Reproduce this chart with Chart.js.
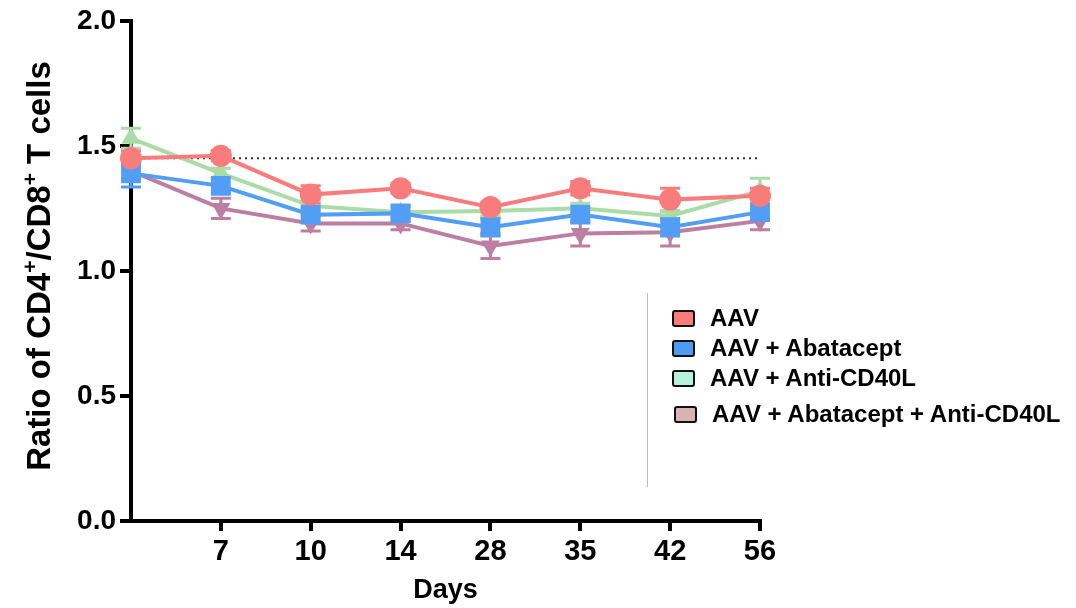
<!DOCTYPE html>
<html>
<head>
<meta charset="utf-8">
<script src="https://cdn.jsdelivr.net/npm/chart.js@4"></script>
<style>
  body { margin: 0; background: #fff; }
  #wrap { position: relative; width: 1076px; height: 608px; }
  #legend { position: absolute; left: 0; top: 0; }
  .sep { position: absolute; left: 647px; top: 293px; width: 1px; height: 194px; background: #bbb; }
  .item { position: absolute; font: bold 24px "Liberation Sans Narrow", "Arial Narrow", Arial, sans-serif; color: #000; white-space: nowrap; line-height: 24px; }
  .box { position: absolute; width: 19px; height: 13px; border: 2px solid #111; border-radius: 3px; }
</style>
</head>
<body>
<div id="wrap">
  <canvas id="chart" width="1076" height="608"></canvas>
  <div id="legend"></div>
</div>
<script>
// categories (first point sits on the y axis, no label)
const days = ['', '7', '10', '14', '28', '35', '42', '56'];

const seriesNames = ['AAV', 'AAV + Abatacept', 'AAV + Anti-CD40L', 'AAV + Abatacept + Anti-CD40L'];

const aavMean = [1.45, 1.46, 1.305, 1.33, 1.255, 1.33, 1.285, 1.30];
const aavSem = [0.03, 0.02, 0.035, 0.02, 0.02, 0.027, 0.045, 0.03];

const abataMean = [1.39, 1.34, 1.225, 1.23, 1.175, 1.225, 1.175, 1.235];
const abataSem = [0.055, 0.03, 0.03, 0.03, 0.035, 0.03, 0.035, 0.03];

const antiMean = [1.53, 1.39, 1.26, 1.235, 1.24, 1.25, 1.22, 1.32];
const antiSem = [0.04, 0.02, 0.02, 0.02, 0.02, 0.02, 0.02, 0.05];

const comboMean = [1.40, 1.25, 1.19, 1.19, 1.10, 1.15, 1.155, 1.20];
const comboSem = [0.03, 0.04, 0.03, 0.025, 0.05, 0.05, 0.055, 0.035];

const refLevel = [1.45, 1.45, 1.45, 1.45, 1.45, 1.45, 1.45, 1.45];

const yTicks = [0, 0.5, 1.0, 1.5, 2.0];

const lineColors = ['#F97C7C', '#529EF4', '#A9DCA6', '#BC7EA2'];
const legendColors = ['#F97B7B', '#4E9CF2', '#B9F2DC', '#D9B3B3'];

// error bars, drawn under the lines/markers
const errorBars = {
  id: 'errorBars',
  beforeDatasetsDraw(chart) {
    const ctx = chart.ctx;
    const y = chart.scales.y;
    chart.data.datasets.forEach((ds, i) => {
      if (!ds.sem) return;
      const meta = chart.getDatasetMeta(i);
      ctx.save();
      ctx.strokeStyle = ds.borderColor;
      ctx.lineWidth = 3;
      meta.data.forEach((pt, j) => {
        const top = y.getPixelForValue(ds.data[j] + ds.sem[j]);
        const bot = y.getPixelForValue(ds.data[j] - ds.sem[j]);
        ctx.beginPath();
        ctx.moveTo(pt.x, top); ctx.lineTo(pt.x, bot);
        ctx.moveTo(pt.x - 10, top); ctx.lineTo(pt.x + 10, top);
        ctx.moveTo(pt.x - 10, bot); ctx.lineTo(pt.x + 10, bot);
        ctx.stroke();
      });
      ctx.restore();
    });
  }
};

// rotated y title with superscripts
const yTitle = {
  id: 'yTitle',
  afterDraw(chart) {
    const ctx = chart.ctx;
    const parts = [['Ratio of CD4', false], ['+', true], ['/CD8', false], ['+', true], [' T cells', false]];
    const big = 'bold 33px Arial, "Liberation Sans", sans-serif';
    const small = 'bold 21px Arial, "Liberation Sans", sans-serif';
    ctx.save();
    let total = 0;
    parts.forEach(p => { ctx.font = p[1] ? small : big; total += ctx.measureText(p[0]).width; });
    ctx.translate(50, 266);
    ctx.rotate(-Math.PI / 2);
    ctx.fillStyle = '#000';
    ctx.textBaseline = 'alphabetic';
    let x = -total / 2;
    parts.forEach(p => {
      ctx.font = p[1] ? small : big;
      ctx.fillText(p[0], x, p[1] ? -13 : 0);
      x += ctx.measureText(p[0]).width;
    });
    ctx.restore();
  }
};

function series(label, data, sem, color, style, rot) {
  return {
    label, data, sem,
    borderColor: color, backgroundColor: color,
    borderWidth: 4,
    pointStyle: style, pointRotation: rot || 0,
    pointRadius: style === 'rect' ? 14 : 11,
    pointBorderWidth: 0,
    tension: 0
  };
}

new Chart(document.getElementById('chart'), {
  type: 'line',
  data: {
    labels: days,
    datasets: [
      series(seriesNames[0], aavMean, aavSem, lineColors[0], 'circle'),
      series(seriesNames[1], abataMean, abataSem, lineColors[1], 'rect'),
      series(seriesNames[2], antiMean, antiSem, lineColors[2], 'triangle'),
      series(seriesNames[3], comboMean, comboSem, lineColors[3], 'triangle', 180),
      {
        label: 'ref', data: refLevel,
        borderColor: '#333', borderWidth: 2, borderDash: [2, 4],
        pointRadius: 0, order: 5
      }
    ]
  },
  options: {
    responsive: false,
    animation: false,
    layout: { padding: { top: 20, right: 316, left: 0, bottom: 0 } },
    plugins: { legend: { display: false }, tooltip: { enabled: false } },
    scales: {
      x: {
        offset: false,
        afterFit(s) { s.height = 87; },
        border: { display: true, color: '#000', width: 4 },
        grid: {
          drawOnChartArea: false, drawTicks: true, tickLength: 10,
          color: c => c.index === 0 ? 'rgba(0,0,0,0)' : '#000', lineWidth: 4
        },
        ticks: {
          color: '#000', padding: 4, maxRotation: 0,
          font: { family: '"Liberation Sans Narrow", "Arial Narrow", Arial', weight: 'bold', size: 29 }
        },
        title: {
          display: true, text: 'Days', color: '#000',
          font: { family: 'Arial, "Liberation Sans"', weight: 'bold', size: 27 },
          padding: { top: 0, bottom: 1 }
        }
      },
      y: {
        min: 0, max: 2,
        afterFit(s) { s.width = 131; },
        afterBuildTicks(s) { s.ticks = yTicks.map(v => ({ value: v })); },
        border: { display: true, color: '#000', width: 4 },
        grid: { drawOnChartArea: false, drawTicks: true, tickLength: 11, color: '#000', lineWidth: 4 },
        ticks: {
          color: '#000', padding: 4,
          callback: v => v.toFixed(1),
          font: { family: 'Arial, "Liberation Sans"', weight: 'bold', size: 28 }
        }
      }
    }
  },
  plugins: [errorBars, yTitle]
});

// legend
const legendPos = [[672, 310, 710, 318], [672, 340, 710, 348], [672, 370, 710, 378], [674, 406, 712, 414]];
const legend = document.getElementById('legend');
const sep = document.createElement('div');
sep.className = 'sep';
legend.appendChild(sep);
seriesNames.forEach((name, i) => {
  const b = document.createElement('div');
  b.className = 'box';
  b.style.left = legendPos[i][0] + 'px';
  b.style.top = legendPos[i][1] + 'px';
  b.style.background = legendColors[i];
  legend.appendChild(b);
  const t = document.createElement('div');
  t.className = 'item';
  t.textContent = name;
  t.style.left = legendPos[i][2] + 'px';
  t.style.top = (legendPos[i][3] - 12) + 'px';
  legend.appendChild(t);
});
</script>
</body>
</html>
